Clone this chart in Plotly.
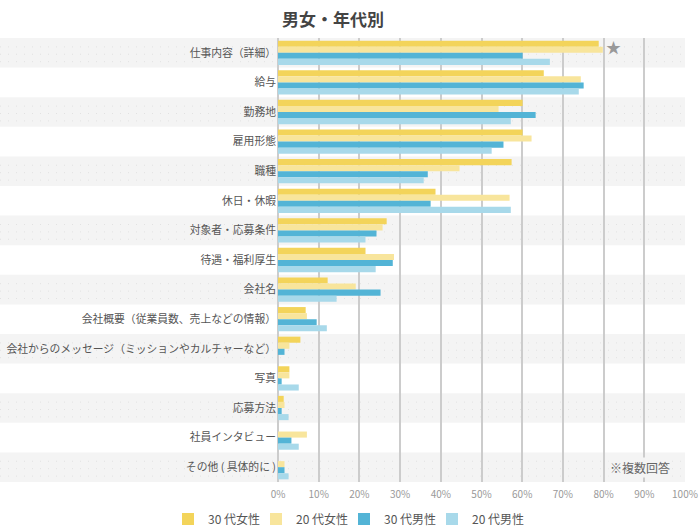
import plotly.graph_objects as go

categories = ["仕事内容（詳細）", "給与", "勤務地", "雇用形態", "職種", "休日・休暇",
              "対象者・応募条件", "待遇・福利厚生", "会社名",
              "会社概要（従業員数、売上などの情報）",
              "会社からのメッセージ（ミッションやカルチャーなど）",
              "写真", "応募方法", "社員インタビュー", "その他 ( 具体的に )"]
series_names = ["30 代女性", "20 代女性", "30 代男性", "20 代男性"]
women30 = [78.8, 65.3, 60.1, 60.1, 57.4, 38.7, 26.7, 21.5, 12.2, 6.8, 5.5, 2.8, 1.4, 0.0, 0.0]
women20 = [79.8, 74.4, 54.2, 62.3, 44.6, 56.9, 25.7, 28.5, 19.1, 7.1, 2.8, 2.8, 1.6, 7.1, 1.6]
men30 = [60.1, 75.1, 63.3, 55.4, 36.8, 37.5, 24.2, 28.2, 25.2, 9.5, 1.6, 0.9, 0.9, 3.3, 1.6]
men20 = [66.8, 73.9, 57.2, 52.5, 35.8, 57.2, 21.5, 24.0, 14.4, 12.0, 0.0, 5.1, 2.6, 5.1, 2.6]
x_ticks = [0, 10, 20, 30, 40, 50, 60, 70, 80, 90, 100]
colors = ["#f3d45a", "#f8e59c", "#53b4d6", "#a8d9ea"]
legend_widths = [43, 43, 43, 62]

fig = go.Figure()
for name, vals, col, lw in zip(series_names, [women30, women20, men30, men20], colors, legend_widths):
    fig.add_trace(go.Bar(y=categories, x=vals, name=name, orientation="h", legendwidth=lw,
                         marker=dict(color=col, line=dict(width=0))))

W, H = 700, 532
L, R, T, B = 278, 15, 38, 50
pw = W - L - R
shapes = []
for i in range(0, len(categories), 2):
    shapes.append(dict(type="rect", xref="paper", yref="y", layer="below",
                       x0=-L / pw, x1=1.0, y0=i - 0.5, y1=i + 0.5,
                       fillcolor="#f4f4f4", line=dict(width=0)))
    for f in (-0.2, 0.05, 0.3):
        shapes.append(dict(type="line", xref="paper", yref="y", layer="below",
                           x0=-L / pw, x1=1.0, y0=i + f, y1=i + f,
                           line=dict(color="#e2e2e2", width=1, dash="1px,7px")))

fig.update_layout(
    width=W, height=H,
    margin=dict(l=L, r=R, t=T, b=B, autoexpand=False),
    paper_bgcolor="white", plot_bgcolor="rgba(0,0,0,0)",
    barmode="group", bargap=0.18, bargroupgap=0,
    font=dict(family="Noto Sans CJK JP", color="#555"),
    title=dict(text="<b>男女・年代別</b>", x=333 / W, xanchor="center", xref="container",
               y=1 - 20 / H, yanchor="middle", yref="container",
               font=dict(size=17, color="#444", family="Noto Sans CJK JP")),
    xaxis=dict(range=[0, 100], tickvals=x_ticks, ticktext=[f"{v}%" for v in x_ticks],
               showgrid=True, gridcolor="#cccccc", gridwidth=1.5,
               zeroline=True, zerolinecolor="#cccccc", zerolinewidth=1.5,
               tickfont=dict(size=10, color="#999", family="Noto Sans CJK JP"),
               ticklabelstandoff=5, automargin=False, fixedrange=True),
    yaxis=dict(range=[len(categories) - 0.5, -0.5], showgrid=False,
               tickfont=dict(size=10.8, color="#555", family="Noto Sans CJK JP"),
               ticklabelstandoff=1, automargin=False, fixedrange=True),
    legend=dict(orientation="h", x=0.505, y=1 - 519 / H, xref="container", yref="container",
                xanchor="center", yanchor="middle",
                font=dict(size=12, color="#555"), traceorder="normal"),
    shapes=shapes,
    showlegend=True,
)
fig.add_annotation(text="★", xref="x", yref="y", x=82.5, y=-0.2, showarrow=False,
                   font=dict(size=15, color="#999"))
fig.add_annotation(text="※複数回答", xref="x", yref="y", x=96.7, y=14, xanchor="right",
                   showarrow=False, font=dict(size=12, color="#666"),
                   bgcolor="#f4f4f4")
fig.write_html("out.html")
